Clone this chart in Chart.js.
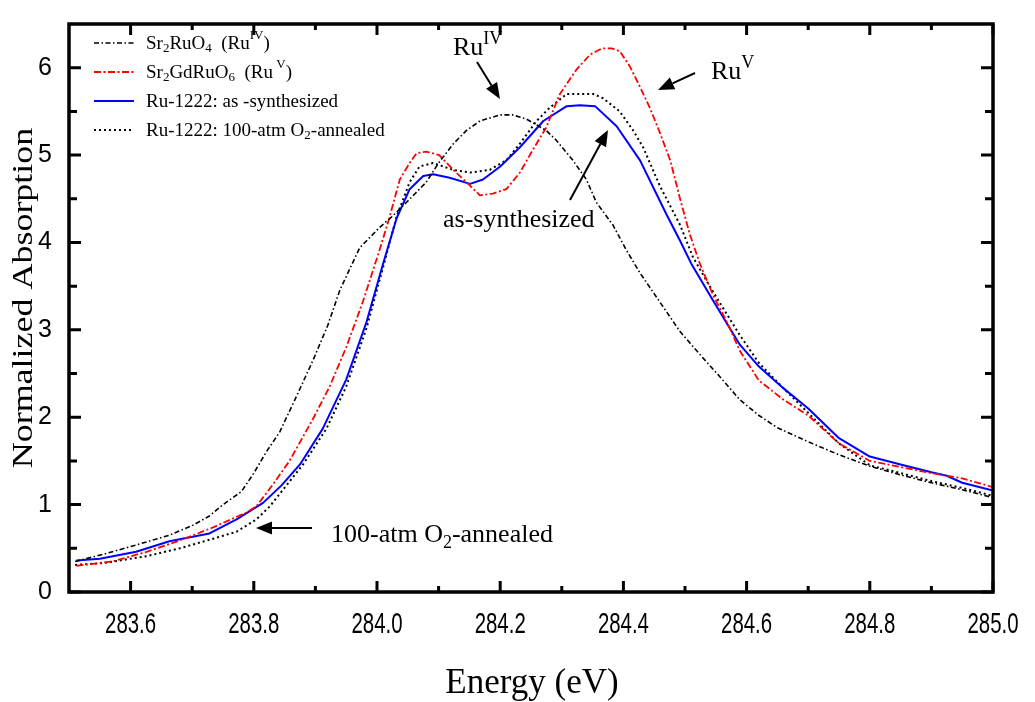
<!DOCTYPE html>
<html><head><meta charset="utf-8">
<script src="https://cdn.jsdelivr.net/npm/chart.js@4.4.0/dist/chart.umd.min.js"></script>
<style>html,body{margin:0;padding:0;background:#fff;}#wrap{width:1035px;height:702px;}</style>
</head><body><div id="wrap"><canvas id="c" width="1035" height="702"></canvas></div>
<script>
// ---- data ----
const xTicks = [283.6, 283.8, 284.0, 284.2, 284.4, 284.6, 284.8, 285.0];
const xMinorTicks = [283.7, 283.9, 284.1, 284.3, 284.5, 284.7, 284.9];
const yTicks = [0, 1, 2, 3, 4, 5, 6];
const yMinorTicks = [0.5, 1.5, 2.5, 3.5, 4.5, 5.5];

const sr2ruo4Energy = [283.51,283.555,283.61,283.663,283.70,283.728,283.75,283.78,283.80,283.82,283.842,283.87,283.896,283.92,283.94,283.972,284.004,284.025,284.048,284.08,284.10,284.124,284.145,284.167,284.20,284.22,284.243,284.275,284.291,284.318,284.34,284.356,284.383,284.405,284.427,284.459,284.492,284.524,284.557,284.589,284.62,284.65,284.70,284.75,284.80,284.85,284.90,284.95,285.00];
const sr2ruo4Abs = [0.35,0.43,0.54,0.65,0.76,0.87,1.00,1.15,1.36,1.60,1.83,2.25,2.65,3.05,3.46,3.94,4.17,4.30,4.46,4.69,4.91,5.13,5.28,5.39,5.46,5.46,5.41,5.28,5.17,4.94,4.72,4.46,4.20,3.91,3.65,3.32,2.98,2.72,2.46,2.20,2.02,1.88,1.72,1.57,1.44,1.34,1.25,1.17,1.08];

const sr2gdruo6Energy = [283.512,283.571,283.626,283.68,283.734,283.788,283.804,283.83,283.858,283.896,283.923,283.95,283.977,284.004,284.02,284.037,284.053,284.064,284.08,284.101,284.124,284.145,284.167,284.188,284.21,284.232,284.253,284.275,284.297,284.324,284.346,284.365,284.381,284.394,284.41,284.427,284.443,284.459,284.476,284.492,284.508,284.524,284.546,284.568,284.589,284.62,284.66,284.70,284.75,284.80,284.85,284.90,284.95,285.00];
const sr2gdruo6Abs = [0.30,0.35,0.46,0.59,0.74,0.91,0.98,1.22,1.50,1.98,2.35,2.80,3.32,3.91,4.28,4.72,4.91,5.02,5.04,5.00,4.83,4.69,4.54,4.56,4.61,4.80,5.06,5.32,5.70,5.98,6.15,6.22,6.22,6.19,6.02,5.78,5.54,5.26,4.94,4.50,4.09,3.76,3.39,3.09,2.76,2.42,2.20,2.02,1.70,1.50,1.43,1.36,1.30,1.20];

const asSynthEnergy = [283.512,283.55,283.609,283.663,283.728,283.772,283.815,283.845,283.875,283.912,283.95,283.983,284.01,284.032,284.053,284.075,284.091,284.118,284.151,284.172,284.20,284.232,284.27,284.308,284.329,284.354,284.389,284.427,284.47,284.492,284.51,284.546,284.589,284.62,284.66,284.70,284.75,284.80,284.85,284.90,284.925,284.95,285.00];
const asSynthAbs = [0.36,0.38,0.46,0.58,0.67,0.83,1.02,1.22,1.46,1.87,2.43,3.09,3.76,4.28,4.61,4.76,4.78,4.74,4.67,4.72,4.87,5.09,5.39,5.56,5.57,5.56,5.33,4.94,4.32,4.02,3.76,3.33,2.83,2.58,2.33,2.10,1.76,1.55,1.46,1.37,1.33,1.25,1.16];

const annealedEnergy = [283.51,283.555,283.626,283.68,283.734,283.772,283.804,283.826,283.88,283.918,283.95,283.983,284.01,284.032,284.053,284.069,284.091,284.124,284.151,284.183,284.21,284.232,284.259,284.28,284.308,284.351,284.367,284.394,284.416,284.432,284.459,284.492,284.513,284.546,284.589,284.62,284.66,284.70,284.75,284.80,284.85,284.90,284.95,285.00];
const annealedAbs = [0.31,0.33,0.41,0.50,0.61,0.69,0.83,0.98,1.46,1.87,2.35,3.02,3.72,4.30,4.69,4.87,4.91,4.83,4.80,4.83,4.94,5.13,5.39,5.54,5.70,5.70,5.65,5.50,5.28,5.09,4.65,4.20,3.83,3.43,2.94,2.62,2.33,2.05,1.70,1.45,1.36,1.27,1.19,1.10];

const seriesLabels = ['Sr\u2082RuO\u2084 (Ru IV)', 'Sr\u2082GdRuO\u2086 (Ru V)', 'Ru-1222: as -synthesized', 'Ru-1222: 100-atm O\u2082-annealed'];
// legend rich text: [text, mode] mode 0 normal, -1 subscript, 1 superscript
const legendParts = [
  [['Sr',0],['2',-1],['RuO',0],['4',-1],['  (Ru',0],['IV',1],[')',0]],
  [['Sr',0],['2',-1],['GdRuO',0],['6',-1],['  (Ru',0],[' V',1],[')',0]],
  [['Ru-1222: as -synthesized',0]],
  [['Ru-1222: 100-atm O',0],['2',-1],['-annealed',0]]
];

function pts(xs, ys){ return xs.map((x,i)=>({x:x, y:ys[i]})); }

const FRAME = {left:69, top:6, right:993, bottom:592};
const SERIF = '"Liberation Serif", "Times New Roman", serif';
const SANS = '"Liberation Sans", Arial, sans-serif';

function drawRich(ctx, x, y, parts, size, family){
  let cx = x;
  for (const [t, m] of parts){
    const s = m === 0 ? size : Math.round(size*0.68);
    ctx.font = s + 'px ' + family;
    const dy = m === -1 ? size*0.22 : (m === 1 ? -size*0.42 : 0);
    ctx.fillText(t, cx, y + dy);
    cx += ctx.measureText(t).width;
  }
}

function arrow(ctx, x1, y1, x2, y2){
  const ang = Math.atan2(y2-y1, x2-x1);
  const L = 16, W = 6.5;
  const bx = x2 - L*Math.cos(ang), by = y2 - L*Math.sin(ang);
  ctx.beginPath(); ctx.moveTo(x1,y1); ctx.lineTo(bx,by);
  ctx.lineWidth = 2; ctx.strokeStyle = '#000'; ctx.stroke();
  ctx.beginPath();
  ctx.moveTo(x2,y2);
  ctx.lineTo(bx + W*Math.sin(ang), by - W*Math.cos(ang));
  ctx.lineTo(bx - W*Math.sin(ang), by + W*Math.cos(ang));
  ctx.closePath(); ctx.fillStyle = '#000'; ctx.fill();
}

const decor = {
  id: 'decor',
  afterDraw(chart){
    const ctx = chart.ctx, xs = chart.scales.x, ys = chart.scales.y;
    const a = chart.chartArea;
    ctx.save();
    // frame
    ctx.strokeStyle = '#000'; ctx.lineWidth = 3.5;
    ctx.strokeRect(a.left, a.top, a.right-a.left, a.bottom-a.top);
    ctx.lineWidth = 3; ctx.lineCap = 'butt';
    const tickX = (v, len) => { const p = xs.getPixelForValue(v);
      ctx.beginPath(); ctx.moveTo(p, a.bottom); ctx.lineTo(p, a.bottom-len);
      ctx.moveTo(p, a.top); ctx.lineTo(p, a.top+len); ctx.stroke(); };
    const tickY = (v, len) => { const p = ys.getPixelForValue(v);
      ctx.beginPath(); ctx.moveTo(a.left, p); ctx.lineTo(a.left+len, p);
      ctx.moveTo(a.right, p); ctx.lineTo(a.right-len, p); ctx.stroke(); };
    xTicks.forEach(v => tickX(v, 11));
    xMinorTicks.forEach(v => tickX(v, 6));
    yTicks.forEach(v => tickY(v, 12));
    yMinorTicks.forEach(v => tickY(v, 8));

    // x tick labels (narrow face, compressed horizontally)
    ctx.fillStyle = '#000';
    ctx.font = '30px ' + SANS;
    ctx.textAlign = 'center'; ctx.textBaseline = 'middle';
    xTicks.forEach(v => {
      const p = xs.getPixelForValue(v);
      ctx.save(); ctx.translate(p, 625); ctx.scale(0.68, 1);
      ctx.fillText(v.toFixed(1), 0, 0);
      ctx.restore();
    });

    // legend
    const ds = chart.data.datasets;
    const rows = [43, 72, 101, 130];
    ctx.textBaseline = 'middle'; ctx.textAlign = 'left';
    ds.forEach((d, i) => {
      ctx.beginPath();
      ctx.setLineDash(d.borderDash || []);
      ctx.strokeStyle = d.borderColor; ctx.lineWidth = d.borderWidth;
      ctx.moveTo(94, rows[i]); ctx.lineTo(134, rows[i]); ctx.stroke();
      ctx.setLineDash([]);
      ctx.fillStyle = '#000';
      drawRich(ctx, 146, rows[i]+1, legendParts[i], 19, SERIF);
    });

    // annotations
    ctx.textBaseline = 'alphabetic';
    drawRich(ctx, 453, 55, [['Ru',0],['IV',1]], 26, SERIF);
    arrow(ctx, 477, 62, 500, 99);
    drawRich(ctx, 711, 79, [['Ru',0],['V',1]], 26, SERIF);
    arrow(ctx, 695, 73, 658, 90);
    ctx.font = '26px ' + SERIF;
    ctx.fillText('as-synthesized', 443, 227);
    arrow(ctx, 570, 200, 608, 130);
    drawRich(ctx, 331, 542, [['100-atm O',0],['2',-1],['-annealed',0]], 26, SERIF);
    arrow(ctx, 312, 528, 256, 528);

    // axis titles
    ctx.textAlign = 'center';
    ctx.font = '35px ' + SERIF;
    ctx.textBaseline = 'alphabetic';
    ctx.fillText('Energy (eV)', 532, 693);
    ctx.save();
    ctx.font = '29px ' + SERIF;
    ctx.textBaseline = 'middle';
    ctx.translate(24, 298); ctx.rotate(-Math.PI/2); ctx.scale(1.24, 1);
    ctx.fillText('Normalized Absorption', 0, 0);
    ctx.restore();
    ctx.restore();
  }
};

const lineBase = {fill:false, pointRadius:0, tension:0, borderJoinStyle:'round'};
new Chart(document.getElementById('c'), {
  type: 'line',
  data: { datasets: [
    Object.assign({label: seriesLabels[0], data: pts(sr2ruo4Energy, sr2ruo4Abs), borderColor:'#000000', borderWidth:1.6, borderDash:[5,2.5,1.5,2.5]}, lineBase),
    Object.assign({label: seriesLabels[1], data: pts(sr2gdruo6Energy, sr2gdruo6Abs), borderColor:'#ff0000', borderWidth:1.8, borderDash:[7,2.5,2,2.5]}, lineBase),
    Object.assign({label: seriesLabels[2], data: pts(asSynthEnergy, asSynthAbs), borderColor:'#0000ff', borderWidth:2}, lineBase),
    Object.assign({label: seriesLabels[3], data: pts(annealedEnergy, annealedAbs), borderColor:'#000000', borderWidth:2, borderDash:[2,3]}, lineBase)
  ]},
  options: {
    responsive:false, animation:false, devicePixelRatio:1,
    layout:{padding:{left:0, top:FRAME.top, right:1035-FRAME.right, bottom:0}},
    plugins:{legend:{display:false}, tooltip:{enabled:false}},
    scales:{
      x:{type:'linear', min:283.5, max:285.0,
        grid:{display:false}, border:{display:false},
        afterBuildTicks(s){ s.ticks = xTicks.map(v=>({value:v})); },
        afterFit(s){ s.height = 702 - FRAME.bottom; },
        ticks:{display:false, callback:(v)=>Number(v).toFixed(1)}
      },
      y:{type:'linear', min:0, max:6.5,
        grid:{display:false}, border:{display:false},
        afterBuildTicks(s){ s.ticks = yTicks.map(v=>({value:v})); },
        afterFit(s){ s.width = FRAME.left; },
        ticks:{padding:9, color:'#000',
          font:{family:SANS, size:25},
          callback:(v)=>String(v)}
      }
    }
  },
  plugins:[decor]
});
</script></body></html>
